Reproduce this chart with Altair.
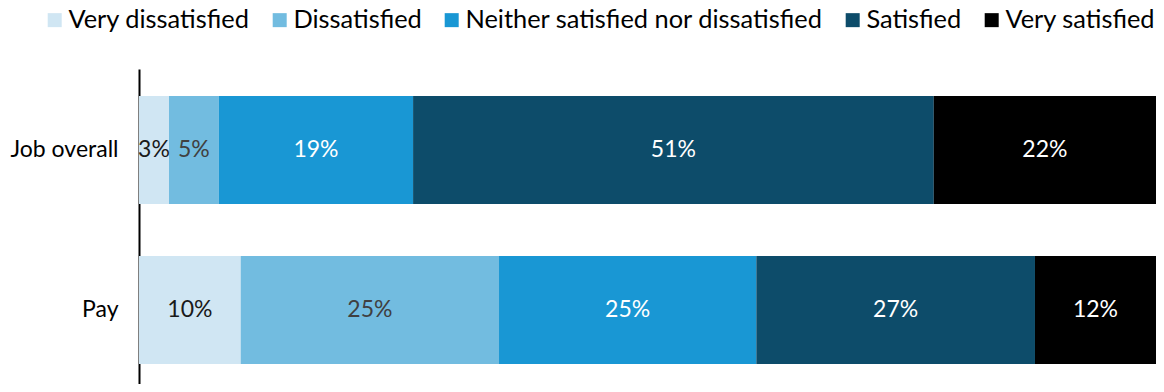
import altair as alt
import pandas as pd

items = ["Job overall", "Pay"]
categories = ["Very dissatisfied", "Dissatisfied", "Neither satisfied nor dissatisfied",
              "Satisfied", "Very satisfied"]
job_values = [2.95, 4.9, 19.1, 51.2, 21.85]
pay_values = [10.0, 25.4, 25.3, 27.4, 11.9]

bar_colors = ["#d0e6f3", "#72bce0", "#1997d4", "#0d4c6a", "#000000"]
label_colors = ["#1a1a1a", "#404040", "#ffffff", "#ffffff", "#ffffff"]

rows = []
for item, vals in zip(items, [job_values, pay_values]):
    for i, (c, v) in enumerate(zip(categories, vals)):
        rows.append({"item": item, "category": c, "value": v, "order": i,
                     "label": f"{round(v)}%"})
df = pd.DataFrame(rows)

FONT = "Lato"

y_enc = alt.Y(
    "item:N", sort=items, title=None,
    scale=alt.Scale(paddingInner=0.325, paddingOuter=0.147, align=0.574),
    axis=alt.Axis(domainColor="black", domainWidth=2, ticks=False,
                  labelFontSize=23, labelColor="black", labelPadding=21,
                  labelFont=FONT, labelLimit=0),
)

base = alt.Chart(df)

bars = base.mark_bar().encode(
    y=y_enc,
    x=alt.X("value:Q", stack="zero", scale=alt.Scale(domain=[0, 100], nice=False), axis=None),
    color=alt.Color(
        "category:N", sort=categories,
        scale=alt.Scale(domain=categories, range=bar_colors),
        legend=alt.Legend(
            orient="none", legendX=-97, legendY=-62, direction="horizontal",
            title=None, symbolType="square", symbolSize=196, symbolStrokeWidth=0,
            labelFontSize=25.4, labelFont=FONT, labelColor="black", labelOffset=1,
            columnPadding=17, padding=0, labelLimit=0,
        ),
    ),
    order=alt.Order("order:Q"),
)

text = base.transform_stack(
    stack="value", groupby=["item"], sort=[alt.SortField("order")], as_=["x0", "x1"]
).transform_calculate(
    mid="(datum.x0 + datum.x1) / 2"
).mark_text(fontSize=23, font=FONT).encode(
    y=alt.Y("item:N", sort=items),
    x=alt.X("mid:Q", axis=None),
    text="label:N",
    color=alt.Color("category:N", scale=alt.Scale(domain=categories, range=label_colors), legend=None),
)

chart = alt.layer(bars, text).resolve_scale(color="independent").properties(
    width=1017, height=315,
    padding={"left": 131, "top": 61, "right": 0, "bottom": 0},
    autosize=alt.AutoSizeParams(type="none"),
).configure_view(stroke=None)

chart.save("out.html", embed_options={"renderer": "svg", "actions": False})
